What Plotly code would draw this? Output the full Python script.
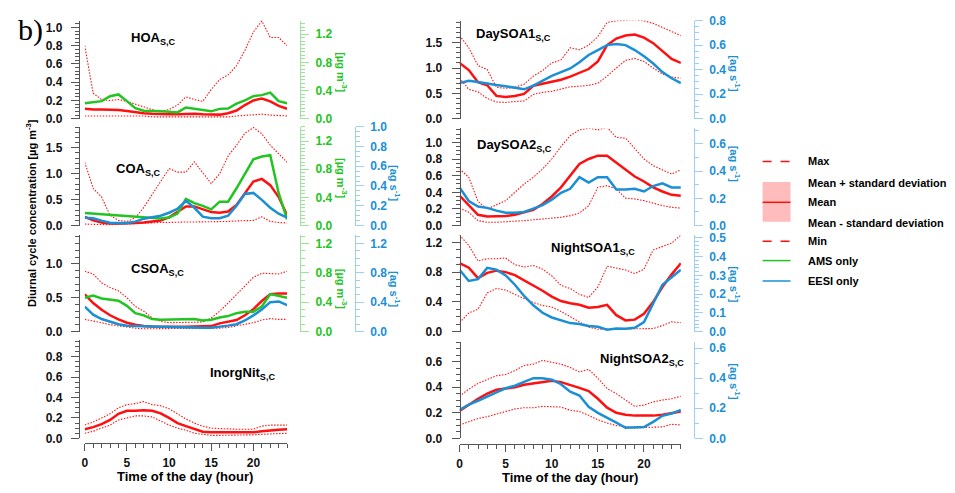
import plotly.graph_objects as go

hours = list(range(25))

# ---------------- data ----------------
HOA_max = [0.80, 0.28, 0.21, 0.20, 0.21, 0.19, 0.16, 0.13, 0.10, 0.08, 0.10, 0.15, 0.24, 0.21, 0.19, 0.32, 0.43, 0.48, 0.58, 0.75, 0.95, 1.07, 0.89, 0.89, 0.80]
HOA_mean = [0.11, 0.10, 0.10, 0.10, 0.095, 0.085, 0.07, 0.06, 0.055, 0.05, 0.05, 0.05, 0.055, 0.055, 0.05, 0.045, 0.045, 0.06, 0.09, 0.15, 0.20, 0.22, 0.19, 0.14, 0.11]
HOA_min = [0.03, 0.03, 0.03, 0.03, 0.03, 0.03, 0.03, 0.03, 0.02, 0.02, 0.02, 0.02, 0.02, 0.02, 0.02, 0.02, 0.02, 0.02, 0.03, 0.035, 0.04, 0.05, 0.04, 0.035, 0.03]
HOA_ams = [0.22, 0.24, 0.25, 0.32, 0.345, 0.25, 0.15, 0.115, 0.105, 0.105, 0.10, 0.09, 0.16, 0.14, 0.125, 0.105, 0.14, 0.145, 0.215, 0.26, 0.32, 0.335, 0.37, 0.25, 0.22]

COA_max = [1.22, 0.72, 0.55, 0.20, 0.10, 0.08, 0.15, 0.35, 0.60, 0.85, 1.10, 1.03, 1.03, 1.23, 1.03, 0.81, 1.00, 1.34, 1.55, 1.78, 1.89, 1.77, 1.55, 1.38, 1.22]
COA_mean = [0.17, 0.10, 0.06, 0.04, 0.04, 0.04, 0.05, 0.06, 0.08, 0.10, 0.16, 0.27, 0.37, 0.37, 0.32, 0.26, 0.25, 0.27, 0.40, 0.62, 0.85, 0.90, 0.78, 0.55, 0.20]
COA_min = [0.03, 0.02, 0.02, 0.02, 0.02, 0.03, 0.04, 0.05, 0.05, 0.06, 0.06, 0.07, 0.07, 0.07, 0.07, 0.08, 0.08, 0.08, 0.09, 0.10, 0.10, 0.17, 0.08, 0.06, 0.05]
COA_ams = [0.18, 0.17, 0.16, 0.155, 0.15, 0.14, 0.13, 0.12, 0.11, 0.10, 0.115, 0.17, 0.38, 0.32, 0.28, 0.23, 0.34, 0.34, 0.53, 0.74, 0.94, 0.98, 1.00, 0.46, 0.09]
COA_eesi = [0.08, 0.075, 0.05, 0.03, 0.026, 0.026, 0.04, 0.07, 0.085, 0.10, 0.13, 0.17, 0.25, 0.18, 0.09, 0.075, 0.075, 0.10, 0.20, 0.32, 0.33, 0.26, 0.18, 0.12, 0.08]

CSOA_max = [0.89, 0.85, 0.72, 0.65, 0.60, 0.50, 0.37, 0.30, 0.20, 0.15, 0.13, 0.13, 0.13, 0.13, 0.14, 0.20, 0.30, 0.42, 0.55, 0.68, 0.80, 0.86, 0.86, 0.85, 0.89]
CSOA_mean = [0.55, 0.42, 0.32, 0.24, 0.18, 0.13, 0.10, 0.08, 0.075, 0.07, 0.07, 0.07, 0.07, 0.07, 0.07, 0.08, 0.12, 0.14, 0.17, 0.24, 0.33, 0.45, 0.55, 0.56, 0.56]
CSOA_min = [0.18, 0.16, 0.13, 0.10, 0.08, 0.06, 0.05, 0.04, 0.04, 0.04, 0.04, 0.04, 0.04, 0.04, 0.04, 0.04, 0.05, 0.06, 0.08, 0.10, 0.13, 0.17, 0.19, 0.18, 0.18]
CSOA_ams = [0.46, 0.49, 0.45, 0.43, 0.42, 0.35, 0.25, 0.22, 0.17, 0.16, 0.16, 0.17, 0.17, 0.17, 0.15, 0.16, 0.19, 0.21, 0.25, 0.27, 0.27, 0.34, 0.51, 0.48, 0.46]
CSOA_eesi = [0.34, 0.23, 0.17, 0.13, 0.10, 0.08, 0.08, 0.08, 0.07, 0.065, 0.06, 0.055, 0.05, 0.05, 0.05, 0.05, 0.06, 0.08, 0.10, 0.15, 0.22, 0.30, 0.40, 0.41, 0.36]

INIT_max = [0.13, 0.16, 0.20, 0.24, 0.30, 0.33, 0.34, 0.36, 0.33, 0.32, 0.29, 0.24, 0.19, 0.15, 0.12, 0.10, 0.095, 0.09, 0.09, 0.09, 0.09, 0.12, 0.13, 0.13, 0.13]
INIT_mean = [0.09, 0.11, 0.14, 0.18, 0.24, 0.27, 0.27, 0.275, 0.27, 0.245, 0.20, 0.15, 0.12, 0.09, 0.065, 0.06, 0.06, 0.055, 0.055, 0.055, 0.06, 0.07, 0.08, 0.085, 0.09]
INIT_min = [0.05, 0.07, 0.10, 0.13, 0.18, 0.20, 0.22, 0.22, 0.21, 0.17, 0.13, 0.10, 0.08, 0.05, 0.04, 0.03, 0.03, 0.03, 0.03, 0.03, 0.035, 0.04, 0.045, 0.05, 0.05]

D1_max = [1.64, 1.40, 1.05, 0.97, 0.62, 0.60, 0.62, 0.68, 0.84, 0.95, 1.10, 1.16, 1.40, 1.36, 1.45, 1.62, 1.90, 1.93, 1.94, 1.95, 1.93, 1.88, 1.80, 1.72, 1.64]
D1_mean = [1.10, 0.96, 0.72, 0.66, 0.45, 0.43, 0.45, 0.49, 0.65, 0.69, 0.72, 0.77, 0.83, 0.90, 0.98, 1.13, 1.45, 1.58, 1.64, 1.66, 1.60, 1.49, 1.33, 1.18, 1.10]
D1_min = [0.80, 0.58, 0.53, 0.40, 0.33, 0.32, 0.34, 0.35, 0.48, 0.52, 0.54, 0.58, 0.63, 0.64, 0.66, 0.70, 0.84, 1.00, 1.15, 1.19, 1.13, 1.00, 0.88, 0.82, 0.80]
D1_eesi = [0.29, 0.31, 0.30, 0.285, 0.275, 0.265, 0.25, 0.24, 0.27, 0.31, 0.35, 0.38, 0.41, 0.46, 0.52, 0.56, 0.60, 0.61, 0.60, 0.56, 0.51, 0.45, 0.38, 0.33, 0.29]

D2_max = [0.68, 0.58, 0.29, 0.20, 0.25, 0.30, 0.40, 0.50, 0.58, 0.68, 0.80, 0.95, 1.08, 1.15, 1.17, 1.15, 1.18, 1.06, 1.05, 0.92, 0.80, 0.72, 0.67, 0.62, 0.67]
D2_mean = [0.36, 0.24, 0.13, 0.11, 0.11, 0.115, 0.13, 0.16, 0.19, 0.26, 0.35, 0.46, 0.60, 0.74, 0.80, 0.84, 0.84, 0.76, 0.67, 0.59, 0.53, 0.46, 0.41, 0.37, 0.36]
D2_min = [0.21, 0.16, 0.06, 0.04, 0.04, 0.045, 0.05, 0.06, 0.07, 0.08, 0.09, 0.10, 0.12, 0.15, 0.24, 0.46, 0.48, 0.44, 0.33, 0.32, 0.30, 0.27, 0.24, 0.22, 0.21]
D2_eesi = [0.28, 0.18, 0.14, 0.13, 0.11, 0.095, 0.095, 0.10, 0.125, 0.15, 0.19, 0.24, 0.27, 0.355, 0.315, 0.355, 0.355, 0.265, 0.265, 0.27, 0.25, 0.29, 0.31, 0.28, 0.28]

N1_max = [1.30, 1.16, 0.95, 0.98, 0.98, 0.99, 0.90, 0.87, 0.89, 0.84, 0.75, 0.62, 0.58, 0.50, 0.46, 0.60, 0.88, 0.86, 0.83, 0.78, 0.84, 1.10, 1.15, 1.19, 1.30]
N1_mean = [0.92, 0.86, 0.72, 0.79, 0.82, 0.80, 0.76, 0.69, 0.63, 0.55, 0.47, 0.41, 0.38, 0.36, 0.32, 0.33, 0.36, 0.22, 0.15, 0.16, 0.24, 0.40, 0.60, 0.77, 0.92]
N1_min = [0.12, 0.25, 0.30, 0.52, 0.58, 0.56, 0.50, 0.44, 0.39, 0.35, 0.33, 0.27, 0.20, 0.13, 0.06, 0.03, 0.03, 0.03, 0.03, 0.03, 0.03, 0.04, 0.08, 0.13, 0.12]
N1_eesi = [0.33, 0.27, 0.28, 0.34, 0.33, 0.30, 0.25, 0.19, 0.14, 0.10, 0.075, 0.06, 0.045, 0.04, 0.03, 0.025, 0.01, 0.016, 0.015, 0.02, 0.05, 0.15, 0.25, 0.29, 0.33]

N2_max = [0.33, 0.385, 0.43, 0.46, 0.49, 0.50, 0.53, 0.57, 0.58, 0.61, 0.595, 0.58, 0.555, 0.52, 0.54, 0.47, 0.39, 0.35, 0.30, 0.25, 0.26, 0.285, 0.30, 0.31, 0.33]
N2_mean = [0.215, 0.265, 0.31, 0.35, 0.38, 0.39, 0.40, 0.42, 0.43, 0.44, 0.45, 0.44, 0.42, 0.395, 0.37, 0.31, 0.24, 0.20, 0.185, 0.178, 0.178, 0.178, 0.185, 0.20, 0.21]
N2_min = [0.105, 0.13, 0.155, 0.17, 0.19, 0.21, 0.23, 0.24, 0.24, 0.25, 0.25, 0.245, 0.22, 0.21, 0.18, 0.145, 0.12, 0.10, 0.094, 0.08, 0.085, 0.089, 0.09, 0.11, 0.105]
N2_eesi = [0.19, 0.225, 0.25, 0.28, 0.305, 0.333, 0.35, 0.375, 0.40, 0.40, 0.39, 0.36, 0.31, 0.285, 0.21, 0.17, 0.14, 0.105, 0.07, 0.075, 0.075, 0.11, 0.15, 0.165, 0.19]

legend_labels = ["Max", "Mean + standard deviation", "Mean", "Mean - standard deviation", "Min", "AMS only", "EESI only"]

# ---------------- styling ----------------
W, H = 955, 493
RED = "#ff1010"
GREEN = "#22c422"
BLUE = "#1a8fd6"
GLINE = "#9fe09f"
BLINE = "#9fcff0"
KLINE = "#555555"
FONT = "Liberation Sans"
DOT = "1.5px,1.5px"


def fx(p):
    return p / W


def fy(p):
    return 1 - p / H


fig = go.Figure()
layout = {}
ycount = [0]


def new_y(rng, top, bot, pos, dtick, mdtick, lc, tc, side="left", overlay=None, standoff=6):
    ycount[0] += 1
    n = ycount[0]
    key = "yaxis" if n == 1 else f"yaxis{n}"
    d = dict(domain=[fy(bot), fy(top)], range=rng, anchor="free", position=fx(pos), side=side,
             showline=True, linecolor=lc, linewidth=1, ticks="outside", ticklen=8, tickwidth=1,
             tickcolor=lc, tick0=0, dtick=dtick, tickformat=".1f", showgrid=False, zeroline=False,
             ticklabelstandoff=standoff,
             tickfont=dict(family=FONT, size=12, color=tc, weight="bold"),
             minor=dict(ticks="outside", ticklen=4, tickcolor=lc, dtick=mdtick, tick0=0, showgrid=False))
    if overlay:
        d["overlaying"] = overlay
    layout[key] = d
    return "y" if n == 1 else f"y{n}"


def new_x(n, x0, x1, anchor_y, bottom_pos=None):
    key = "xaxis" if n == 1 else f"xaxis{n}"
    d = dict(domain=[fx(x0), fx(x1)], range=[0, 24], showgrid=False, zeroline=False)
    if bottom_pos is None:
        d.update(anchor=anchor_y, visible=False)
    else:
        d.update(anchor="free", position=fy(bottom_pos), showline=True, linecolor=KLINE,
                 ticks="outside", ticklen=7, tickcolor=KLINE, tick0=0, dtick=5, ticklabelstandoff=1,
                 tickfont=dict(family=FONT, size=12, color="#111", weight="bold"),
                 minor=dict(ticks="outside", ticklen=4, tickcolor=KLINE, dtick=1, tick0=0))
    layout[key] = d
    return "x" if n == 1 else f"x{n}"


def line(xa, ya, y, color, width=2.5, dash=None):
    fig.add_trace(go.Scatter(x=hours, y=y, xaxis=xa, yaxis=ya, mode="lines",
                             line=dict(color=color, width=width, dash=dash), hoverinfo="skip"))


def ann(text, x, y, size=12, color="black", angle=0, xanchor="center", family=FONT):
    fig.add_annotation(text=text, x=fx(x), y=fy(y), xref="paper", yref="paper", showarrow=False,
                       font=dict(size=size, color=color, family=family), textangle=angle,
                       xanchor=xanchor, yanchor="middle")


def red_set(xa, ya, mx, mean, mn):
    line(xa, ya, mx, RED, 1.1, DOT)
    line(xa, ya, mn, RED, 1.1, DOT)
    line(xa, ya, mean, RED, 2.5)


# ---------------- left column ----------------
LX0, LX1, LYP, LG, LB = 82, 285, 76, 298, 353
# HOA
x1 = new_x(1, LX0, LX1, "y")
y1 = new_y([0, 1.075], 14, 115, LYP, 0.2, 0.04, KLINE, "#111")
g1 = new_y([0, 1.393], 14, 115, LG, 0.4, 0.05, GLINE, GREEN, side="right", overlay=y1, standoff=4)
line(x1, g1, HOA_ams, GREEN)
red_set(x1, y1, HOA_max, HOA_mean, HOA_min)
layout["xaxis"]["anchor"] = y1

# COA
x2 = new_x(2, LX0, LX1, None)
y2 = new_y([0, 1.91], 123, 225, LYP, 0.5, 0.1, KLINE, "#111")
layout["xaxis2"]["anchor"] = y2
g2 = new_y([0, 1.407], 123, 225, LG, 0.4, 0.05, GLINE, GREEN, side="right", overlay=y2, standoff=4)
b2 = new_y([0, 1.0], 123, 225, LB, 0.2, 0.05, BLINE, BLUE, side="right", overlay=y2, standoff=4)
line(x2, g2, COA_ams, GREEN)
line(x2, b2, COA_eesi, BLUE)
red_set(x2, y2, COA_max, COA_mean, COA_min)

# CSOA
x3 = new_x(3, LX0, LX1, None)
y3 = new_y([0, 1.42], 235, 334, LYP, 0.5, 0.1, KLINE, "#111")
layout["xaxis3"]["anchor"] = y3
g3 = new_y([0, 1.31], 235, 334, LG, 0.4, 0.1, GLINE, GREEN, side="right", overlay=y3, standoff=4)
b3 = new_y([0, 1.31], 235, 334, LB, 0.4, 0.1, BLINE, BLUE, side="right", overlay=y3, standoff=4)
line(x3, g3, CSOA_ams, GREEN)
line(x3, b3, CSOA_eesi, BLUE)
red_set(x3, y3, CSOA_max, CSOA_mean, CSOA_min)

# InorgNit
x4 = new_x(4, LX0, LX1, None, bottom_pos=449)
y4 = new_y([0, 0.96], 343, 444, LYP, 0.2, 0.05, KLINE, "#111")
red_set(x4, y4, INIT_max, INIT_mean, INIT_min)

# ---------------- right column ----------------
RX0, RX1, RYP, RB = 458, 680, 458, 693
x5 = new_x(5, RX0, RX1, None)
y5 = new_y([0, 1.935], 14, 115, RYP, 0.5, 0.1, KLINE, "#111", standoff=7)
layout["xaxis5"]["anchor"] = y5
b5 = new_y([0, 0.8], 14, 115, RB, 0.2, 0.05, BLINE, BLUE, side="right", overlay=y5, standoff=4)
line(x5, b5, D1_eesi, BLUE)
red_set(x5, y5, D1_max, D1_mean, D1_min)

x6 = new_x(6, RX0, RX1, None)
y6 = new_y([0, 1.167], 125, 225, RYP, 0.2, 0.05, KLINE, "#111", standoff=7)
layout["xaxis6"]["anchor"] = y6
b6 = new_y([0, 0.712], 125, 225, RB, 0.2, 0.1, BLINE, BLUE, side="right", overlay=y6, standoff=4)
line(x6, b6, D2_eesi, BLUE)
red_set(x6, y6, D2_max, D2_mean, D2_min)

x7 = new_x(7, RX0, RX1, None)
y7 = new_y([0, 1.296], 235, 334, RYP, 0.4, 0.1, KLINE, "#111", standoff=7)
layout["xaxis7"]["anchor"] = y7
b7 = new_y([0, 0.514], 235, 334, RB, 0.1, 0.02, BLINE, BLUE, side="right", overlay=y7, standoff=4)
line(x7, b7, N1_eesi, BLUE)
red_set(x7, y7, N1_max, N1_mean, N1_min)

x8 = new_x(8, RX0, RX1, None, bottom_pos=450)
y8 = new_y([0, 0.752], 345, 444, RYP, 0.2, 0.05, KLINE, "#111", standoff=7)
b8 = new_y([0, 0.639], 345, 444, RB, 0.2, 0.1, BLINE, BLUE, side="right", overlay=y8, standoff=4)
line(x8, b8, N2_eesi, BLUE)
red_set(x8, y8, N2_max, N2_mean, N2_min)

# ---------------- text ----------------
ann("b)", 28, 24, size=30, family="Liberation Serif")
ann("<b>Diurnal cycle concentration [µg m<sup>-3</sup>]</b>", 28, 212, size=11, angle=-90)
ann("<b>HOA<sub>S,C</sub></b>", 150, 32, size=13)
ann("<b>COA<sub>S,C</sub></b>", 135, 167, size=13)
ann("<b>CSOA<sub>S,C</sub></b>", 155, 270, size=13)
ann("<b>InorgNit<sub>S,C</sub></b>", 240, 377, size=13)
ann("<b>DaySOA1<sub>S,C</sub></b>", 512, 28, size=13)
ann("<b>DaySOA2<sub>S,C</sub></b>", 513, 143, size=13)
ann("<b>NightSOA1<sub>S,C</sub></b>", 592, 249, size=13)
ann("<b>NightSOA2<sub>S,C</sub></b>", 641, 363, size=13)

ug = "<b>[µg m<sup>-3</sup>]</b>"
ags = "<b>[ag s<sup>-1</sup>]</b>"
ann(ug, 340, 67, size=11, color=GREEN, angle=90)
ann(ug, 340, 176, size=11, color=GREEN, angle=90)
ann(ug, 340, 290, size=11, color=GREEN, angle=90)
ann(ags, 393, 182, size=11, color=BLUE, angle=90)
ann(ags, 393, 291, size=11, color=BLUE, angle=90)
ann(ags, 734, 69, size=11, color=BLUE, angle=90)
ann(ags, 734, 162, size=11, color=BLUE, angle=90)
ann(ags, 734, 286, size=11, color=BLUE, angle=90)
ann(ags, 734, 386, size=11, color=BLUE, angle=90)

ann("<b>Time of the day (hour)</b>", 183, 483, size=13)
ann("<b>Time of the day (hour)</b>", 569, 484, size=13)

# ---------------- legend ----------------
LGX0, LGX1, LTX = 762, 790, 806
leg_y = [159, 181, 201, 222, 241, 261, 282]
shapes = []
shapes.append(dict(type="rect", xref="paper", yref="paper", x0=fx(LGX0), x1=fx(LGX1), y0=fy(221), y1=fy(180),
                   fillcolor="#ffbcbc", line=dict(width=0), layer="above"))
for i, yy in enumerate(leg_y):
    if i in (0, 4):
        shapes.append(dict(type="line", xref="paper", yref="paper", x0=fx(LGX0), x1=fx(LGX1), y0=fy(yy), y1=fy(yy),
                           line=dict(color=RED, width=1.5, dash="dash")))
    elif i == 2:
        shapes.append(dict(type="line", xref="paper", yref="paper", x0=fx(LGX0), x1=fx(LGX1), y0=fy(yy), y1=fy(yy),
                           line=dict(color=RED, width=1.5)))
    elif i == 5:
        shapes.append(dict(type="line", xref="paper", yref="paper", x0=fx(LGX0), x1=fx(LGX1), y0=fy(yy), y1=fy(yy),
                           line=dict(color=GREEN, width=1.5)))
    elif i == 6:
        shapes.append(dict(type="line", xref="paper", yref="paper", x0=fx(LGX0), x1=fx(LGX1), y0=fy(yy), y1=fy(yy),
                           line=dict(color=BLUE, width=1.5)))
    ann(f"<b>{legend_labels[i]}</b>", LTX, yy, size=11, xanchor="left")

fig.update_layout(width=W, height=H, margin=dict(l=0, r=0, t=0, b=0), showlegend=False,
                  plot_bgcolor="white", paper_bgcolor="white", shapes=shapes, **layout)

fig.write_html("out.html")
